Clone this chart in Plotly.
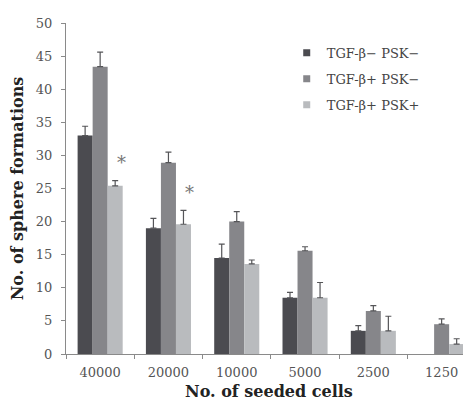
import plotly.graph_objects as go

categories = ["40000", "20000", "10000", "5000", "2500", "1250"]
series_names = ["TGF-β− PSK−", "TGF-β+ PSK−", "TGF-β+ PSK+"]
dark_vals = [33.0, 19.0, 14.5, 8.5, 3.5, None]
dark_err = [1.4, 1.5, 2.1, 0.8, 0.8, None]
mid_vals = [43.4, 28.9, 20.0, 15.6, 6.5, 4.5]
mid_err = [2.2, 1.6, 1.5, 0.6, 0.8, 0.8]
light_vals = [25.4, 19.6, 13.6, 8.5, 3.5, 1.5]
light_err = [0.8, 2.1, 0.6, 2.3, 2.2, 0.8]
star_cats = ["40000", "20000"]
star_y = [29.0, 24.4]

colors = ["#4b4b50", "#86868a", "#b9bbbe"]
font_fam = "DejaVu Serif"

fig = go.Figure()
for i, (name, vals, errs, col) in enumerate(zip(series_names, [dark_vals, mid_vals, light_vals],
                                                [dark_err, mid_err, light_err], colors)):
    fig.add_trace(go.Bar(
        x=categories, y=vals, name=name, marker=dict(color=col, line=dict(width=0)),
        showlegend=False,
        error_y=dict(type="data", array=errs, arrayminus=[0]*len(errs), symmetric=False,
                     color="#555558", thickness=1.2, width=3),
    ))
    fig.add_trace(go.Scatter(
        x=[None], y=[None], mode="markers", name=name, legendgroup=f"g{i}",
        marker=dict(symbol="square", size=7, color=col),
    ))

for c, yv in zip(star_cats, star_y):
    fig.add_annotation(x=categories.index(c), y=yv, xref="x", yref="y", text="*",
                       showarrow=False, xshift=21,
                       font=dict(family=font_fam, size=18, color="#777777"))

fig.add_annotation(x=0.5, y=0, xref="paper", yref="paper", yshift=-37,
                   text="<b>No. of seeded cells</b>", showarrow=False, yanchor="middle",
                   font=dict(family=font_fam, size=16, color="#222222"))

fig.update_layout(
    width=463, height=393,
    margin=dict(l=58, r=0, t=15, b=47),
    paper_bgcolor="white", plot_bgcolor="white",
    barmode="group", bargap=0.34, bargroupgap=0,
    font=dict(family=font_fam, color="#555555"),
    legend=dict(x=0.545, y=0.955, xanchor="left", yanchor="top",
                font=dict(family=font_fam, size=13, color="#444444"),
                bgcolor="rgba(0,0,0,0)", tracegroupgap=6, itemwidth=30),
    showlegend=True,
)
fig.update_xaxes(
    type="category", range=[-0.5, 5.43],
    showline=True, linecolor="#8a8a8a", linewidth=1,
    ticks="outside", tickson="boundaries", ticklen=4, tickcolor="#8a8a8a",
    tickfont=dict(family=font_fam, size=13, color="#555555"),
    ticklabelstandoff=6, showgrid=False, zeroline=False,
)
fig.update_yaxes(
    range=[0, 50], dtick=5, tick0=0,
    showline=True, linecolor="#8a8a8a", linewidth=1,
    ticks="outside", ticklen=4, tickcolor="#8a8a8a",
    tickfont=dict(family=font_fam, size=13, color="#555555"),
    ticklabelstandoff=6, showgrid=False, zeroline=False,
    title=dict(text="<b>No. of sphere formations</b>", standoff=8,
               font=dict(family=font_fam, size=16, color="#222222")),
)

fig.write_html("out.html")
